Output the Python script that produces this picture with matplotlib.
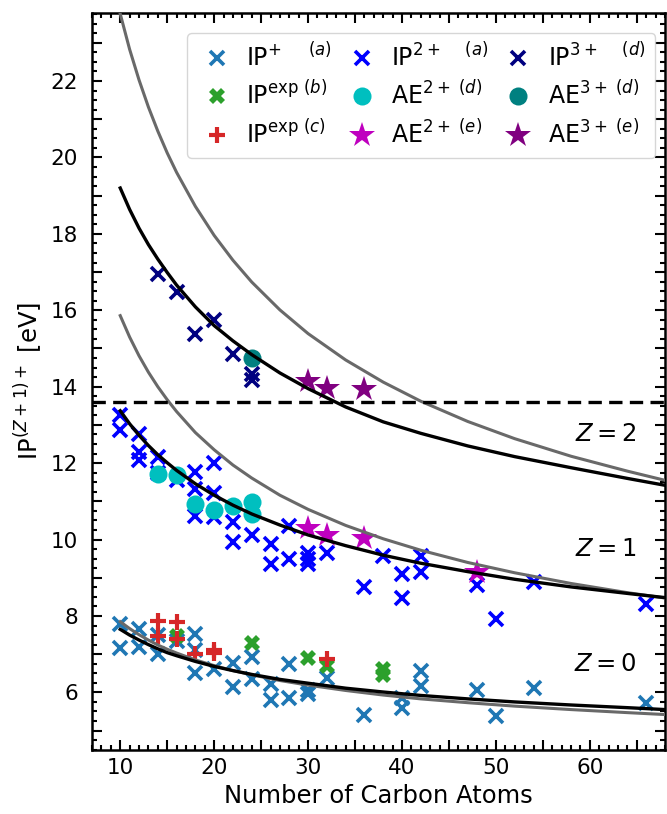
import matplotlib
matplotlib.use("Agg")
import matplotlib.pyplot as plt
from matplotlib.ticker import MultipleLocator, FuncFormatter

# ---- data ----
# IP+ (a)
ip1_n = [10, 10, 12, 12, 14, 14, 16, 18, 18, 18, 20, 22, 22, 24, 24, 26, 26, 28, 28,
         30, 30, 32, 36, 40, 40, 42, 42, 48, 50, 54, 66]
ip1_e = [7.8, 7.15, 7.65, 7.2, 7.5, 7.0, 7.35, 7.52, 7.1, 6.5, 6.6, 6.78, 6.15, 6.92, 6.34,
         6.22, 5.8, 6.73, 5.85, 6.05, 5.95, 6.38, 5.42, 5.85, 5.6, 6.55, 6.17, 6.06, 5.38,
         6.12, 5.73]
# IP exp (b)
ipb_n = [16, 24, 30, 32, 38, 38]
ipb_e = [7.47, 7.3, 6.9, 6.7, 6.6, 6.45]
# IP exp (c)
ipc_n = [14, 14, 16, 16, 18, 20, 20, 32]
ipc_e = [7.88, 7.48, 7.85, 7.4, 7.0, 7.1, 7.02, 6.87]
# IP2+ (a)
ip2_n = [10, 10, 12, 12, 12, 14, 14, 16, 18, 18, 18, 20, 20, 20, 22, 22, 24, 26, 26,
         28, 28, 30, 30, 30, 32, 36, 38, 40, 40, 42, 42, 48, 50, 54, 66]
ip2_e = [13.27, 12.88, 12.76, 12.3, 12.08, 12.17, 11.75, 11.55, 11.76, 11.33, 10.62,
         12.0, 11.22, 10.6, 10.45, 9.93, 10.12, 9.88, 9.36, 10.36, 9.49, 9.65, 9.5,
         9.35, 9.66, 8.75, 9.58, 9.1, 8.48, 9.58, 9.14, 8.8, 7.91, 8.88, 8.31]
# AE2+ (d)
ae2d_n = [14, 16, 18, 20, 22, 24, 24]
ae2d_e = [11.71, 11.7, 10.93, 10.78, 10.87, 10.99, 10.67]
# AE2+ (e)
ae2e_n = [30, 32, 36, 48]
ae2e_e = [10.3, 10.12, 10.04, 9.16]
# IP3+ (d)
ip3_n = [14, 16, 18, 20, 22, 24, 24]
ip3_e = [16.96, 16.47, 15.38, 15.75, 14.86, 14.32, 14.18]
# AE3+ (d)
ae3d_n = [24]
ae3d_e = [14.76]
# AE3+ (e)
ae3e_n = [30, 32, 36]
ae3e_e = [14.14, 13.97, 13.95]

# model curves, values
curve_n = [10, 11, 12, 13, 14, 15, 16, 18, 20, 22, 24, 27, 30, 34, 38, 42, 47, 52, 58, 64, 68]
black_z0 = [7.65, 7.50, 7.37, 7.25, 7.14, 7.04, 6.96, 6.81, 6.68, 6.57, 6.47, 6.34, 6.24,
            6.11, 6.01, 5.92, 5.83, 5.75, 5.67, 5.60, 5.55]
grey_z0 = [7.85, 7.67, 7.51, 7.37, 7.24, 7.13, 7.03, 6.85, 6.70, 6.57, 6.46, 6.31, 6.19,
           6.05, 5.93, 5.83, 5.73, 5.64, 5.55, 5.47, 5.42]
black_z1 = [13.37, 13.03, 12.73, 12.46, 12.22, 12.01, 11.81, 11.46, 11.16, 10.90, 10.67,
            10.38, 10.12, 9.84, 9.59, 9.38, 9.16, 8.96, 8.76, 8.59, 8.48]
grey_z1 = [15.86, 15.30, 14.81, 14.38, 14.00, 13.66, 13.35, 12.80, 12.35, 11.95, 11.61,
           11.16, 10.79, 10.37, 10.02, 9.72, 9.40, 9.13, 8.85, 8.61, 8.47]
black_z2 = [19.20, 18.64, 18.15, 17.72, 17.34, 16.99, 16.66, 16.09, 15.60, 15.20, 14.84,
            14.36, 13.95, 13.47, 13.08, 12.78, 12.45, 12.17, 11.88, 11.60, 11.42]
grey_z2 = [23.76, 22.83, 22.03, 21.32, 20.69, 20.12, 19.61, 18.72, 17.96, 17.31, 16.74,
           16.01, 15.39, 14.70, 14.12, 13.62, 13.09, 12.64, 12.18, 11.79, 11.55]

H_IP = 13.6

fig = plt.figure(figsize=(6.67, 8.14), dpi=100)
ax = fig.add_axes([0.138, 0.079, 0.859, 0.905])

ms_x, mew_x = 10, 2.6
ax.plot(ip1_n, ip1_e, "x", color="tab:blue", ms=ms_x, mew=mew_x, ls="none",
        label=r"IP$^{+\quad\ \ (a)}$")
ax.plot(ipb_n, ipb_e, "X", color="tab:green", ms=12, mew=0, ls="none",
        label=r"IP$^{{\rm exp}\ (b)}$")
ax.plot(ipc_n, ipc_e, "+", color="tab:red", ms=12, mew=3, ls="none",
        label=r"IP$^{{\rm exp}\ (c)}$")
ax.plot(ip2_n, ip2_e, "x", color="blue", ms=ms_x, mew=mew_x, ls="none",
        label=r"IP$^{2+\quad\ (a)}$")
ax.plot(ae2d_n, ae2d_e, "o", color="c", ms=13, mew=0, ls="none",
        label=r"AE$^{2+\ (d)}$")
ax.plot(ae2e_n, ae2e_e, "*", color="m", ms=19, mew=0, ls="none",
        label=r"AE$^{2+\ (e)}$")
ax.plot(ip3_n, ip3_e, "x", color="navy", ms=ms_x, mew=mew_x, ls="none",
        label=r"IP$^{3+\quad\ (d)}$")
ax.plot(ae3d_n, ae3d_e, "o", color="teal", ms=13, mew=0, ls="none",
        label=r"AE$^{3+\ (d)}$")
ax.plot(ae3e_n, ae3e_e, "*", color="purple", ms=19, mew=0, ls="none",
        label=r"AE$^{3+\ (e)}$")

for g, b in [(grey_z0, black_z0), (grey_z1, black_z1), (grey_z2, black_z2)]:
    ax.plot(curve_n, g, color="dimgray", lw=2.2, zorder=3)
    ax.plot(curve_n, b, color="black", lw=2.4, zorder=3)

ax.axhline(H_IP, color="black", lw=2.4, ls=(0, (4, 2.2)), zorder=3)

for z, yy in [(2, 12.75), (1, 9.75), (0, 6.73)]:
    ax.text(65, yy, rf"$Z = {z}$", ha="right", va="center", fontsize=17.5)

ax.set_xlim(7, 68)
ax.set_ylim(4.5, 23.78)
ax.set_xlabel("Number of Carbon Atoms", fontsize=17.5)
ax.set_ylabel(r"IP$^{(Z+1)+}$ [eV]", fontsize=17.5)

ax.xaxis.set_major_locator(MultipleLocator(5))
ax.xaxis.set_minor_locator(MultipleLocator(1))
ax.yaxis.set_major_locator(MultipleLocator(1))
ax.yaxis.set_minor_locator(MultipleLocator(0.25))
ax.xaxis.set_major_formatter(FuncFormatter(lambda v, p: f"{v:.0f}" if v % 10 == 0 else ""))
ax.yaxis.set_major_formatter(FuncFormatter(lambda v, p: f"{v:.0f}" if v % 2 == 0 else ""))
ax.tick_params(which="both", direction="in", top=True, right=True, width=1.5)
ax.tick_params(which="major", length=7, labelsize=15.5)
ax.tick_params(which="minor", length=3.5)
ax.tick_params(axis="y", which="major", pad=10)
ax.tick_params(axis="x", which="major", pad=6)
for s in ax.spines.values():
    s.set_linewidth(1.8)

ax.legend(loc="upper right", bbox_to_anchor=(0.983, 0.973), borderaxespad=0,
          ncol=3, fontsize=17, handletextpad=0.4, columnspacing=0.4,
          borderpad=0.42, labelspacing=0.42, handlelength=1.7)

fig.savefig("out.png", dpi=100)
